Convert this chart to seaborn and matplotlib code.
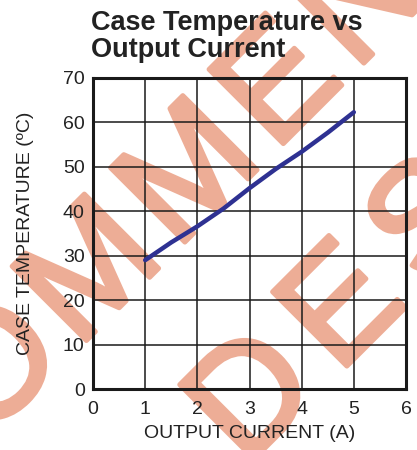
import matplotlib
matplotlib.use("Agg")
import matplotlib.pyplot as plt
import matplotlib.patheffects as pe
import numpy as np
import seaborn as sns
import pandas as pd
from matplotlib.font_manager import FontProperties, findfont
from matplotlib.ft2font import FT2Font

# values
current = [1, 1.5, 2, 2.5, 3, 3.5, 4, 4.5, 5]
case_temp = [29.0, 33.0, 36.6, 40.6, 45.2, 49.5, 53.4, 57.7, 62.3]
x_ticks = [0, 1, 2, 3, 4, 5, 6]
y_ticks = [0, 10, 20, 30, 40, 50, 60, 70]

df = pd.DataFrame({"current": current, "temp": case_temp})

sns.set_theme(style="white")
plt.rcParams['font.family'] = ['Liberation Sans', 'DejaVu Sans']

W, H = 417, 450
fig = plt.figure(figsize=(W / 100, H / 100), dpi=100)
ax = fig.add_axes([93 / W, 1 - 389 / H, 313 / W, 311 / H])
ax.set_facecolor('none')

sns.lineplot(data=df, x="current", y="temp", ax=ax, color="#2E3192",
             linewidth=3.2, zorder=5)

ax.set_xlim(0, 6)
ax.set_ylim(0, 70)
ax.set_xticks(x_ticks)
ax.set_yticks(y_ticks)
ax.grid(True, color="#1a1a1a", linewidth=1.1)
for s in ax.spines.values():
    s.set_visible(True)
    s.set_color("#1a1a1a")
    s.set_linewidth(2.2)
ax.tick_params(axis="y", length=0, labelsize=14, colors="#222222", pad=6)
ax.tick_params(axis="x", length=0, labelsize=14, colors="#222222", pad=9)
ax.set_xlabel("OUTPUT CURRENT (A)", fontsize=14, color="#222222", labelpad=5)
ax.set_ylabel("CASE TEMPERATURE (ºC)", fontsize=14, color="#222222")
ax.yaxis.set_label_coords(-0.19, 0.5)

fig.text(91 / W, 1 - 10 / H, "Case Temperature vs\nOutput Current",
         fontsize=19.5, fontweight="bold", color="#222222",
         ha="left", va="top", linespacing=1.05)

# watermark stamp behind the chart, letters spaced out along a 45 deg line
wm_size = 110
ang = np.deg2rad(45)
d = np.array([np.cos(ang), -np.sin(ang)])
ft = FT2Font(findfont(FontProperties(family="Liberation Sans")))
ft.set_size(wm_size, 100)


def stamp(text, idx, origin, track):
    adv = [ft.load_char(ord(c)).linearHoriAdvance / 65536 + track for c in text]
    pos = np.array(origin, dtype=float) - d * sum(adv[:idx])
    for c, a in zip(text, adv):
        fig.text(pos[0] / W, 1 - pos[1] / H, c, rotation=45, rotation_mode="anchor",
                 fontsize=wm_size, color="#EDAD96", ha="left", va="baseline",
                 zorder=-1,
                 path_effects=[pe.withStroke(linewidth=3.5, foreground="#EDAD96")])
        pos = pos + d * a


stamp("NOT RECOMMENDED", 9, (176, 251), 12)
stamp("FOR NEW DESIGNS", 9, (338, 375), 21)

fig.savefig("out.png", dpi=100)
